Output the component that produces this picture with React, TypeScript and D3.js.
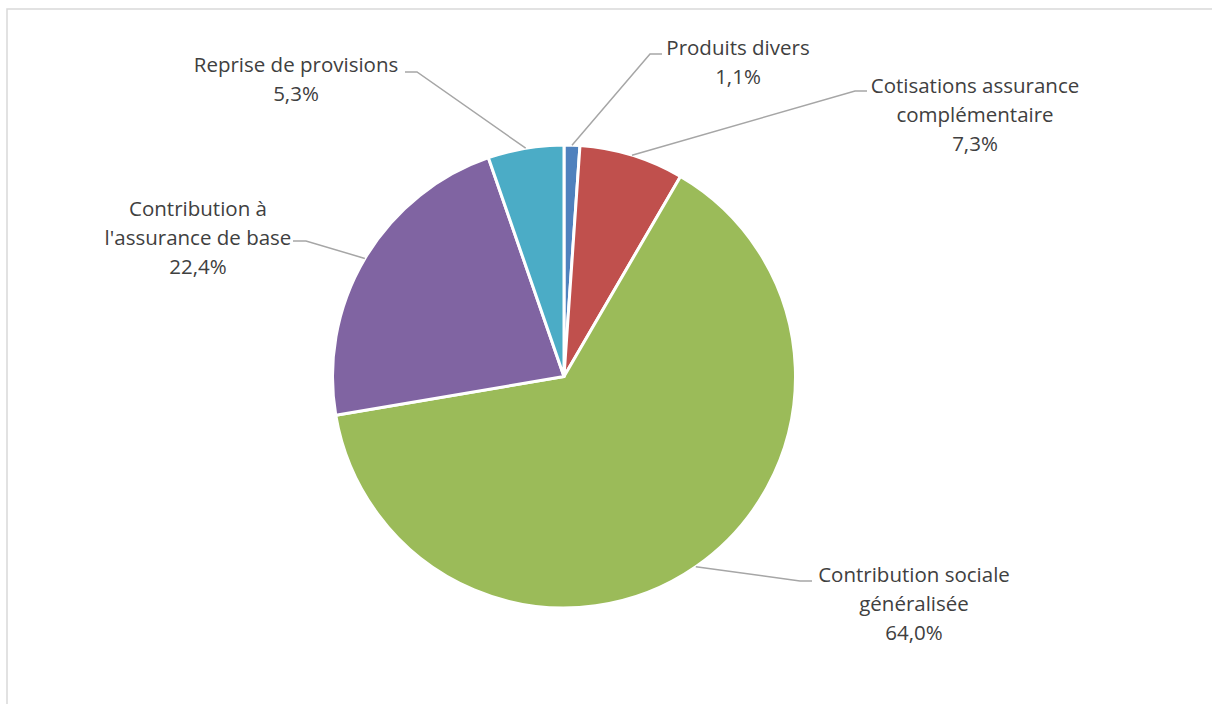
import React from "react";
import * as d3 from "d3";

const categories = [
  "Produits divers",
  "Cotisations assurance complémentaire",
  "Contribution sociale généralisée",
  "Contribution à l'assurance de base",
  "Reprise de provisions",
];
const values = [1.1, 7.3, 64.0, 22.4, 5.3];
const colors = ["#4F81BD", "#C0504D", "#9BBB59", "#8064A2", "#4BACC6"];
const labelLines = [
  ["Produits divers"],
  ["Cotisations assurance", "complémentaire"],
  ["Contribution sociale", "généralisée"],
  ["Contribution à", "l'assurance de base"],
  ["Reprise de provisions"],
];

// layout (label text centre x, first baseline y, leader elbow and end)
const labelLayout = [
  { x: 738, y: 55, elbow: [650, 54], end: [662, 54] },
  { x: 975, y: 93, elbow: [855, 91], end: [867, 91] },
  { x: 914, y: 582, elbow: [800, 581], end: [812, 581] },
  { x: 198, y: 216, elbow: [306, 241], end: [293, 241] },
  { x: 296, y: 72, elbow: [417, 72], end: [405, 72] },
];

const W = 1212;
const H = 704;
const cx = 564;
const cy = 376.5;
const R = 231.5;
const lineH = 28.8;

const fmt = (v: number) => d3.format(".1f")(v).replace(".", ",") + "%";

export default function App() {
  const pie = d3
    .pie<number>()
    .sort(null)
    .value((d) => d);
  const arcs = pie(values);
  const arcGen = d3.arc<d3.PieArcDatum<number>>().innerRadius(0).outerRadius(R);

  return (
    <svg
      width={W}
      height={H}
      style={{ position: "absolute", left: 0, top: 0, background: "#fff" }}
      fontFamily="'Open Sans', sans-serif"
    >
      <rect x={7} y={9} width={W + 20} height={H + 20} fill="#fff" stroke="#d9d9d9" strokeWidth={1.5} />
      <g transform={`translate(${cx},${cy})`}>
        {arcs.map((a, i) => (
          <path key={i} d={arcGen(a) || ""} fill={colors[i]} stroke="#fff" strokeWidth={3} strokeLinejoin="round" />
        ))}
      </g>
      {arcs.map((a, i) => {
        const mid = (a.startAngle + a.endAngle) / 2;
        const sx = cx + R * Math.sin(mid);
        const sy = cy - R * Math.cos(mid);
        const L = labelLayout[i];
        const lines = [...labelLines[i], fmt(values[i])];
        return (
          <g key={i}>
            <polyline
              points={`${sx},${sy} ${L.elbow[0]},${L.elbow[1]} ${L.end[0]},${L.end[1]}`}
              fill="none"
              stroke="#a6a6a6"
              strokeWidth={1.5}
            />
            <text x={L.x} y={L.y} textAnchor="middle" fontSize={20.5} fill="#404040">
              {lines.map((t, j) => (
                <tspan key={j} x={L.x} y={L.y + j * lineH}>
                  {t}
                </tspan>
              ))}
            </text>
          </g>
        );
      })}
    </svg>
  );
}
